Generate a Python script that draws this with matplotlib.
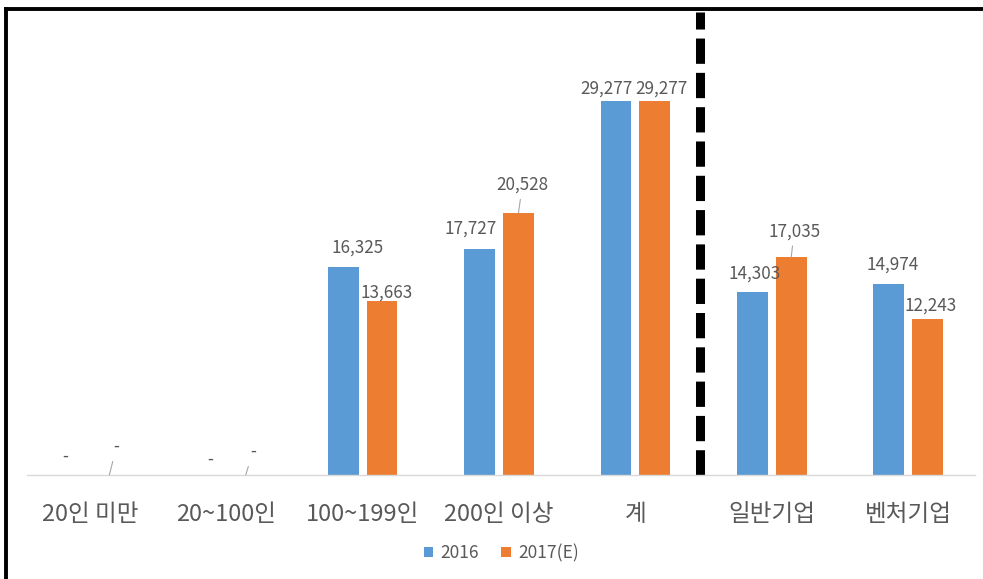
import matplotlib
matplotlib.use("Agg")
import matplotlib.pyplot as plt
from matplotlib.lines import Line2D
import numpy as np

plt.rcParams['font.family'] = ['Noto Sans CJK KR', 'DejaVu Sans']

# 데이터
categories = ['20인 미만', '20~100인', '100~199인', '200인 이상', '계', '일반기업', '벤처기업']
series_names = ['2016', '2017(E)']
values_2016 = [0, 0, 16325, 17727, 29277, 14303, 14974]
values_2017 = [0, 0, 13663, 20528, 29277, 17035, 12243]

# 라벨 위치 보정 (픽셀, dx / dy)
nudge_2016 = [(-5, 18), (3, 15), (14, 19), (-9, 20), (-10, 13), (2, 19), (4, 19)]
nudge_2017 = [(7, 28), (7, 23), (5, 8), (4, 28), (7, 13), (3, 26), (3, 13)]

blue = '#5B9BD5'
orange = '#ED7D31'
gray = '#595959'

fig = plt.figure(figsize=(9.83, 5.79), dpi=100)
ax = fig.add_axes([27 / 983, 104 / 579, 948 / 983, 463 / 579])

x = np.arange(len(categories))
w = 0.225
off = 0.142
bars1 = ax.bar(x - off, values_2016, w, color=blue, label=series_names[0])
bars2 = ax.bar(x + off, values_2017, w, color=orange, label=series_names[1])

ax.set_xlim(-0.462, 6.49)
ax.set_ylim(0, 36257)


def fmt(v):
    return '-' if v == 0 else f'{v:,}'


for bars, vals, nudges in [(bars1, values_2016, nudge_2016), (bars2, values_2017, nudge_2017)]:
    for b, v, (dx, dy) in zip(bars, vals, nudges):
        xc = b.get_x() + b.get_width() / 2
        arrow = None
        if dy > 22:
            arrow = dict(arrowstyle='-', color='#a6a6a6', lw=0.8, shrinkA=2, shrinkB=0)
        ax.annotate(fmt(v), xy=(xc, v), xytext=(dx, dy), textcoords='offset pixels',
                    ha='center', va='center', fontsize=12.3, color=gray,
                    arrowprops=arrow)

# 구분 점선
ax.axvline(4.475, ymin=0, ymax=1, color='black', lw=6.5, dashes=(2.8, 1.0))

for s in ['top', 'right', 'left']:
    ax.spines[s].set_visible(False)
ax.spines['bottom'].set_color('#d9d9d9')
ax.spines['bottom'].set_linewidth(1)
ax.set_yticks([])
ax.set_xticks(x)
ax.set_xticklabels(categories, fontsize=17, color=gray)
ax.tick_params(axis='x', length=0, pad=20)

ax.legend(loc='center', bbox_to_anchor=(0.51, 26 / 579), bbox_transform=fig.transFigure,
          ncol=2, frameon=False, fontsize=12.5, labelcolor=gray,
          handlelength=0.55, handleheight=0.55, handletextpad=0.4, columnspacing=1.3)

# 테두리 (위, 왼쪽)
fig.add_artist(Line2D([6 / 983, 1], [1 - 8.5 / 579, 1 - 8.5 / 579], transform=fig.transFigure,
                      color='black', lw=2.8))
fig.add_artist(Line2D([6 / 983, 6 / 983], [0, 1 - 8.5 / 579], transform=fig.transFigure,
                      color='black', lw=2.8))

fig.savefig('out.png', dpi=100)
